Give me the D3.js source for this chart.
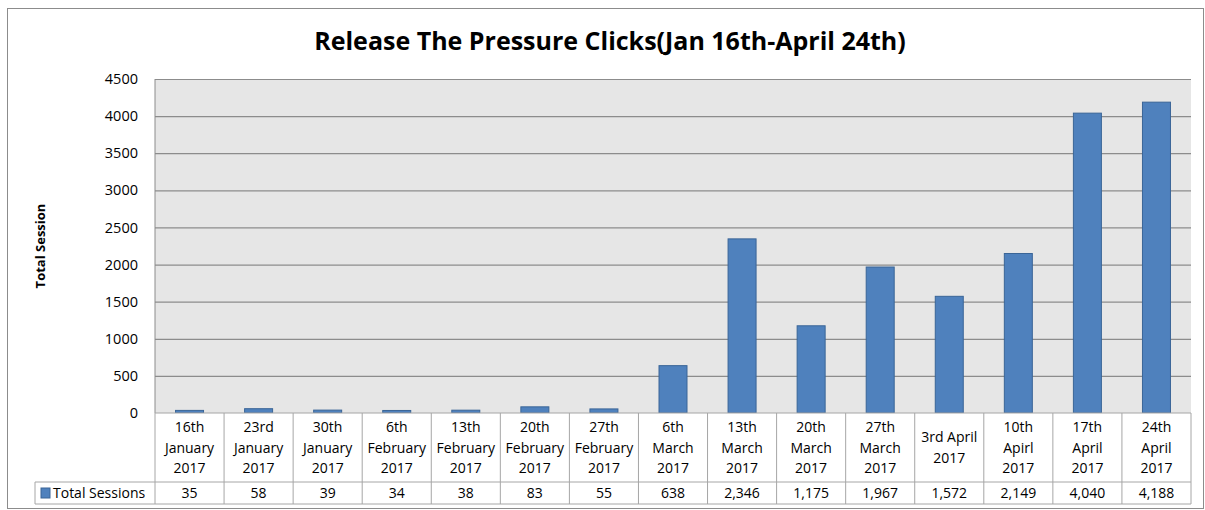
<!DOCTYPE html>
<html>
<head>
<meta charset="utf-8">
<script src="https://cdn.jsdelivr.net/npm/d3@7"></script>
<style>
  body { margin: 0; background: #fff; }
  svg text { font-family: "Open Sans", sans-serif; fill: #000; }
</style>
</head>
<body>
<div class="graph"></div>
<script>
// week labels, one line per entry
var categories = [
    ["16th", "January", "2017"],
    ["23rd", "January", "2017"],
    ["30th", "January", "2017"],
    ["6th", "February", "2017"],
    ["13th", "February", "2017"],
    ["20th", "February", "2017"],
    ["27th", "February", "2017"],
    ["6th", "March", "2017"],
    ["13th", "March", "2017"],
    ["20th", "March", "2017"],
    ["27th", "March", "2017"],
    ["3rd April", "2017"],
    ["10th", "Apirl", "2017"],
    ["17th", "April", "2017"],
    ["24th", "April", "2017"]
];
var sessions = [35, 58, 39, 34, 38, 83, 55, 638, 2346, 1175, 1967, 1572, 2149, 4040, 4188];
var yTicks = [0, 500, 1000, 1500, 2000, 2500, 3000, 3500, 4000, 4500];
var seriesName = "Total Sessions";
var title = "Release The Pressure Clicks(Jan 16th-April 24th)";
var yLabel = "Total Session";

var W = 1205, H = 510;
var plotL = 155, plotR = 1191, plotT = 79, plotB = 413;
var rowH = 69, valH = 22;

var svg = d3.select(".graph").append("svg")
    .attr("width", W)
    .attr("height", H);

// outer chart border
svg.append("rect")
    .attr("x", 7.5).attr("y", 8.5)
    .attr("width", 1196).attr("height", 500)
    .attr("fill", "#fff")
    .attr("stroke", "#8c8c8c");

var x = d3.scaleBand().domain(d3.range(categories.length)).range([plotL, plotR]);
var y = d3.scaleLinear().domain([0, 4500]).range([plotB, plotT]);

// plot background
svg.append("rect")
    .attr("x", plotL).attr("y", plotT)
    .attr("width", plotR - plotL).attr("height", plotB - plotT)
    .attr("fill", "#e6e6e6");

// gridlines + y axis
var yAxis = svg.append("g")
    .attr("transform", "translate(" + plotL + ",0)")
    .call(d3.axisLeft(y).tickValues(yTicks).tickSize(-(plotR - plotL)).tickPadding(17).tickFormat(d3.format("d")));
yAxis.select(".domain").remove();
yAxis.selectAll(".tick line").attr("stroke", "#8c8c8c").attr("stroke-width", 1.2);
yAxis.selectAll(".tick text")
    .style("font-size", "14.5px")
    .style("font-family", "Open Sans, sans-serif");

// vertical axis line
svg.append("line")
    .attr("x1", plotL).attr("x2", plotL)
    .attr("y1", plotT).attr("y2", plotB)
    .attr("stroke", "#8c8c8c");

// bars
var barW = 28;
svg.selectAll(".graphbar")
    .data(sessions)
    .enter().append("rect")
    .attr("class", "graphbar")
    .attr("x", function (d, i) { return x(i) + x.bandwidth() / 2 - barW / 2; })
    .attr("width", barW)
    .attr("y", function (d) { return y(d); })
    .attr("height", function (d) { return plotB - y(d); })
    .attr("fill", "#4f81bd")
    .attr("stroke", "#3a6597")
    .attr("stroke-width", 1);

// data table
var table = svg.append("g").attr("class", "datatable");
var lineC = "#a6a6a6";

table.append("rect")
    .attr("x", plotL).attr("y", plotB)
    .attr("width", plotR - plotL).attr("height", rowH + valH)
    .attr("fill", "#fff");

// horizontal lines
table.append("line").attr("x1", plotL).attr("x2", plotR).attr("y1", plotB).attr("y2", plotB).attr("stroke", lineC);
table.append("line").attr("x1", 35).attr("x2", plotR).attr("y1", plotB + rowH).attr("y2", plotB + rowH).attr("stroke", lineC);
table.append("line").attr("x1", 35).attr("x2", plotR).attr("y1", plotB + rowH + valH).attr("y2", plotB + rowH + valH).attr("stroke", lineC);
table.append("line").attr("x1", 35).attr("x2", 35).attr("y1", plotB + rowH).attr("y2", plotB + rowH + valH).attr("stroke", lineC);

// vertical separators
table.selectAll(".sep")
    .data(d3.range(categories.length + 1))
    .enter().append("line")
    .attr("class", "sep")
    .attr("x1", function (i) { return i < categories.length ? x(i) : plotR; })
    .attr("x2", function (i) { return i < categories.length ? x(i) : plotR; })
    .attr("y1", plotB)
    .attr("y2", plotB + rowH + valH)
    .attr("stroke", lineC);

// category labels
table.selectAll(".cat")
    .data(categories)
    .enter().append("text")
    .attr("class", "cat")
    .attr("text-anchor", "middle")
    .style("font-size", "14px")
    .each(function (d, i) {
        var t = d3.select(this);
        var lh = 20.5;
        var y0 = plotB + rowH / 2 - (d.length - 1) * lh / 2 + 5;
        d.forEach(function (s, k) {
            t.append("tspan")
                .attr("x", x(i) + x.bandwidth() / 2)
                .attr("y", y0 + k * lh)
                .text(s);
        });
    });

// values row
table.selectAll(".val")
    .data(sessions)
    .enter().append("text")
    .attr("class", "val")
    .attr("text-anchor", "middle")
    .attr("x", function (d, i) { return x(i) + x.bandwidth() / 2; })
    .attr("y", plotB + rowH + valH / 2 + 5)
    .style("font-size", "14px")
    .text(function (d) { return d3.format(",")(d); });

// legend key
table.append("rect")
    .attr("x", 41).attr("y", plotB + rowH + 6)
    .attr("width", 9).attr("height", 10)
    .attr("fill", "#4f81bd")
    .attr("stroke", "#3a6597");
table.append("text")
    .attr("x", 53)
    .attr("y", plotB + rowH + valH / 2 + 5)
    .style("font-size", "14px")
    .text(seriesName);

// title
svg.append("text")
    .attr("x", 610)
    .attr("y", 50)
    .attr("text-anchor", "middle")
    .style("font-size", "25px")
    .style("font-weight", "bold")
    .text(title);

// y axis title
svg.append("text")
    .attr("transform", "translate(45,246) rotate(-90)")
    .attr("text-anchor", "middle")
    .style("font-size", "13px")
    .style("font-weight", "bold")
    .text(yLabel);
</script>
</body>
</html>
